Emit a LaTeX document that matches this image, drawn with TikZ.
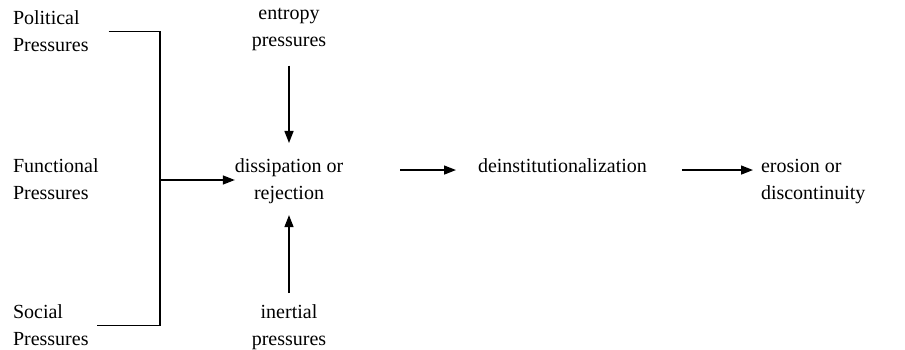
\documentclass[tikz,border=0pt]{standalone}
\usepackage{fontspec}
\setmainfont{Liberation Serif}
\usetikzlibrary{arrows.meta,positioning}

\begin{document}
\begin{tikzpicture}[
    x=1pt, y=-1pt,
    >={Triangle[length=12pt,width=9pt]},
    font=\fontsize{20}{27}\selectfont,
    txt/.style={inner sep=0pt, outer sep=0pt, align=left},
    ctxt/.style={txt, align=center},
    wire/.style={line width=1.4pt},
    arr/.style={wire, ->},
  ]
  \useasboundingbox (0,0) rectangle (905,350);

  % Pressures on the left
  \node[txt, anchor=north west] (political) at (13,11) {Political\\Pressures};
  \node[txt, anchor=north west] (functional) at (13,159) {Functional\\Pressures};
  \node[txt, anchor=north west] (social) at (13,305) {Social\\Pressures};

  % Centre column
  \node[ctxt, anchor=north] (entropy) at (289,8) {entropy\\pressures};
  \node[ctxt, anchor=north] (dissip) at (289,159) {dissipation or\\rejection};
  \node[ctxt, anchor=north] (inertial) at (289,305) {inertial\\pressures};

  % Chain to the right
  \node[txt, anchor=north west] (deinst) at (478,159) {deinstitutionalization};
  \node[txt, anchor=north west] (erosion) at (761,159) {erosion or\\discontinuity};

  % Bracket
  \coordinate (join) at (160,180);
  \draw[wire] ([xshift=20pt]political.east) -| (join)
    |- ([xshift=8pt]social.east);
  \draw[arr] (join) -- (join -| dissip.west);

  % Vertical arrows
  \draw[arr, shorten <=15pt, shorten >=16pt] (entropy) -- (dissip);
  \draw[arr, shorten <=12pt, shorten >=11pt] (inertial) -- (dissip);

  % Horizontal arrows
  \draw[arr, shorten <=57pt, shorten >=22pt]
    ([yshift=-4pt]deinst.west -| dissip.east) -- ([yshift=-4pt]deinst.west);
  \draw[arr, shorten <=35pt, shorten >=8pt]
    ([yshift=-4pt]deinst.east) -- ([yshift=-4pt]deinst.east -| erosion.west);
\end{tikzpicture}
\end{document}
